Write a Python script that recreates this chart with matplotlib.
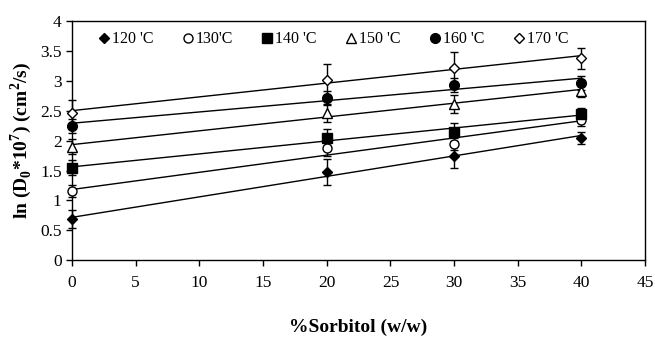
import numpy as np
import matplotlib.pyplot as plt

plt.rcParams['font.family'] = ['Liberation Serif', 'DejaVu Serif']
plt.rcParams['mathtext.fontset'] = 'custom'
plt.rcParams['mathtext.rm'] = 'Liberation Serif'
plt.rcParams['mathtext.bf'] = 'Liberation Serif:bold'

sorbitol = [0, 20, 30, 40]
labels = ["120 'C", "130'C", "140 'C", "150 'C", "160 'C", "170 'C"]
ln_d0 = [
    [0.68, 1.47, 1.75, 2.05],
    [1.15, 1.87, 1.95, 2.35],
    [1.55, 2.05, 2.15, 2.45],
    [1.90, 2.47, 2.62, 2.83],
    [2.25, 2.72, 2.93, 2.97],
    [2.47, 3.02, 3.22, 3.38],
]
errs = [
    [0.15, 0.22, 0.20, 0.10],
    [0.10, 0.12, 0.10, 0.10],
    [0.12, 0.15, 0.15, 0.10],
    [0.12, 0.15, 0.15, 0.10],
    [0.12, 0.12, 0.12, 0.12],
    [0.22, 0.27, 0.27, 0.18],
]
markers = ['D', 'o', 's', '^', 'o', 'D']
fills = ['black', 'white', 'black', 'white', 'black', 'white']
msizes = [5.5, 6.5, 6.5, 6.5, 7, 5.5]

fig = plt.figure(figsize=(6.55, 3.39), dpi=100)
ax = fig.add_axes([0.11, 0.233, 0.875, 0.704])

xs = np.array(sorbitol)
for y, e, m, fc, ms, lab in zip(ln_d0, errs, markers, fills, msizes, labels):
    eb = ax.errorbar(sorbitol, y, yerr=e, fmt='none', ecolor='black', elinewidth=1,
                     capsize=3, capthick=1, zorder=2)
    for art in eb.lines[1] + eb.lines[2]:
        art.set_clip_on(False)
    k, b = np.polyfit(xs, y, 1)
    ax.plot([xs.min(), xs.max()], [b, k * xs.max() + b], color='black', lw=1, zorder=3)
    ax.plot(sorbitol, y, linestyle='none', marker=m, markersize=ms,
            markerfacecolor=fc, markeredgecolor='black', markeredgewidth=1,
            label=lab, zorder=4, clip_on=False)

ax.set_xlim(0, 45)
ax.set_ylim(0, 4)
ax.set_xticks(range(0, 46, 5))
ax.set_yticks(np.arange(0, 4.01, 0.5))
ax.set_yticklabels(['0', '0.5', '1', '1.5', '2', '2.5', '3', '3.5', '4'])
ax.tick_params(labelsize=12.5, direction='out', length=4, width=1)
ax.tick_params(axis='x', pad=7)
for s in ax.spines.values():
    s.set_linewidth(1)

ax.set_xlabel('%Sorbitol (w/w)', fontsize=14, fontweight='bold', labelpad=20)
ax.set_ylabel(r'ln (D$_\mathbf{0}$*10$^\mathbf{7}$) (cm$^\mathbf{2}$/s)', fontsize=14,
              fontweight='bold', labelpad=4)

ax.legend(loc='upper left', ncol=6, frameon=False, fontsize=11.5,
          handletextpad=0.1, columnspacing=1.75, handlelength=0.8,
          bbox_to_anchor=(0.025, 1.005), borderaxespad=0.3)

fig.savefig('out.png', dpi=100)
